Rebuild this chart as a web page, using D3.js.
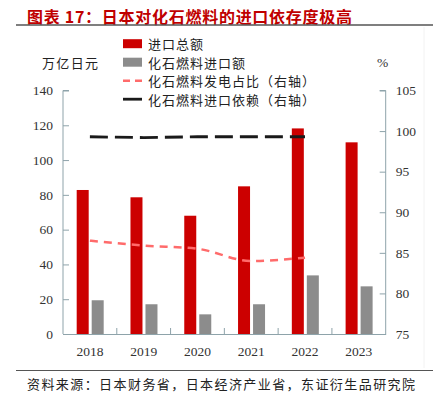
<!DOCTYPE html>
<html>
<head>
<meta charset="utf-8">
<script src="https://cdn.jsdelivr.net/npm/d3@7"></script>
<style>
  body { margin: 0; background: #fff; }
  svg { display: block; }
</style>
</head>
<body>
<script>
const width = 439;
const height = 396;
const marginTop = 90.5;
const marginBottom = 62;
const marginLeft = 63;
const marginRight = 53.3;

const years = ["2018", "2019", "2020", "2021", "2022", "2023"];
const totalImports = [82.8, 78.6, 68.0, 84.9, 118.2, 110.2];
const fossilImports = [19.4, 17.1, 11.3, 17.1, 33.7, 27.4];
// right axis, only 2018-2022
const powerShare = [86.5, 85.9, 85.5, 84.0, 84.4];
const dependence = [99.3, 99.2, 99.3, 99.3, 99.3];
const leftTicks = [0, 20, 40, 60, 80, 100, 120, 140];
const rightTicks = [75, 80, 85, 90, 95, 100, 105];

const cjk = "'Noto Sans CJK SC', sans-serif";
const serif = "'Liberation Serif', 'Times New Roman', serif";
const axisColor = "#8ea3aa";

const svg = d3.select("body").append("svg")
  .attr("width", width)
  .attr("height", height);

// title
svg.append("text")
  .text("图表 17：日本对化石燃料的进口依存度极高")
  .attr("x", 27)
  .attr("y", 16)
  .attr("dominant-baseline", "central")
  .attr("textLength", 325)
  .attr("lengthAdjust", "spacing")
  .style("font-family", cjk)
  .style("font-size", "16px")
  .style("font-weight", "bold")
  .attr("fill", "#c00000");

svg.append("line")
  .attr("x1", 16).attr("x2", 433)
  .attr("y1", 25).attr("y2", 25)
  .attr("stroke", "#555").attr("stroke-width", 1.5);

svg.append("line")
  .attr("x1", 16).attr("x2", 433)
  .attr("y1", 370.5).attr("y2", 370.5)
  .attr("stroke", "#555").attr("stroke-width", 1.2);

svg.append("line")
  .attr("x1", 424).attr("x2", 424)
  .attr("y1", 27).attr("y2", 368)
  .attr("stroke", "#f2f2f2");

svg.append("text")
  .text("资料来源：日本财务省，日本经济产业省，东证衍生品研究院")
  .attr("x", 27)
  .attr("y", 383)
  .attr("dominant-baseline", "central")
  .attr("textLength", 388)
  .attr("lengthAdjust", "spacing")
  .style("font-family", cjk)
  .style("font-size", "13px")
  .attr("fill", "#222");

const x = d3.scaleBand()
  .domain(years)
  .range([marginLeft, width - marginRight]);

const y = d3.scaleLinear()
  .domain([0, 140])
  .range([height - marginBottom, marginTop]);

const y2 = d3.scaleLinear()
  .domain([75, 105])
  .range([height - marginBottom, marginTop]);

// left axis
const gl = svg.append("g")
  .attr("transform", `translate(${marginLeft},0)`)
  .call(d3.axisRight(y).tickValues(leftTicks).tickSize(6).tickFormat(d3.format("d")));
gl.select(".domain").attr("stroke", axisColor).attr("d", `M6,${y(140)}H0V${y(0)}`);
gl.selectAll(".tick line").attr("stroke", axisColor);
gl.selectAll(".tick text")
  .attr("x", -10)
  .attr("text-anchor", "end")
  .style("font-family", serif)
  .style("font-size", "13.5px")
  .attr("fill", "#333");

// right axis
const gr = svg.append("g")
  .attr("transform", `translate(${width - marginRight},0)`)
  .call(d3.axisLeft(y2).tickValues(rightTicks).tickSize(6));
gr.select(".domain").attr("stroke", axisColor).attr("d", `M-6,${y2(105)}H0V${y2(75)}`);
gr.selectAll(".tick line").attr("stroke", axisColor);
gr.selectAll(".tick text")
  .attr("x", 10)
  .attr("text-anchor", "start")
  .style("font-family", serif)
  .style("font-size", "13.5px")
  .attr("fill", "#333");

// bottom axis
const gb = svg.append("g")
  .attr("transform", `translate(0,${height - marginBottom})`)
  .call(d3.axisBottom(x).tickSize(0).tickPadding(12));
gb.select(".domain").attr("stroke", axisColor);
gb.selectAll(".tick text")
  .style("font-family", serif)
  .style("font-size", "13.5px")
  .attr("fill", "#333");
gb.selectAll(".sep")
  .data(years.slice(1))
  .enter().append("line")
    .attr("x1", d => x(d)).attr("x2", d => x(d))
    .attr("y1", 0).attr("y2", -6)
    .attr("stroke", axisColor);

const cx = d => x(d) + x.bandwidth() / 2;

// bars
svg.append("g").selectAll("rect")
  .data(years)
  .enter().append("rect")
    .attr("x", d => cx(d) - 13.2)
    .attr("width", 12)
    .attr("y", (d, i) => y(totalImports[i]))
    .attr("height", (d, i) => y(0) - y(totalImports[i]))
    .attr("fill", "#cc0000");

svg.append("g").selectAll("rect")
  .data(years)
  .enter().append("rect")
    .attr("x", d => cx(d) + 1.8)
    .attr("width", 12)
    .attr("y", (d, i) => y(fossilImports[i]))
    .attr("height", (d, i) => y(0) - y(fossilImports[i]))
    .attr("fill", "#8c8c8c");

// lines
const line2 = d3.line()
  .x((d, i) => cx(years[i]))
  .y(d => y2(d));

svg.append("path")
  .datum(dependence)
  .attr("d", line2)
  .attr("fill", "none")
  .attr("stroke", "#1a1a1a")
  .attr("stroke-width", 2.8)
  .attr("stroke-dasharray", "18,7");

svg.append("path")
  .datum(powerShare)
  .attr("d", line2.curve(d3.curveMonotoneX))
  .attr("fill", "none")
  .attr("stroke", "#ff6b6b")
  .attr("stroke-width", 2.5)
  .attr("stroke-dasharray", "8,6");

// axis units
svg.append("text")
  .text("万亿日元")
  .attr("x", 42).attr("y", 62)
  .attr("dominant-baseline", "central")
  .attr("textLength", 56)
  .attr("lengthAdjust", "spacing")
  .style("font-family", cjk)
  .style("font-size", "13px")
  .attr("fill", "#222");

svg.append("text")
  .text("%")
  .attr("x", 377).attr("y", 62)
  .attr("dominant-baseline", "central")
  .style("font-family", serif)
  .style("font-size", "13.5px")
  .attr("fill", "#333");

// legend
const legendItems = [
  { label: "进口总额", type: "rect", color: "#cc0000" },
  { label: "化石燃料进口额", type: "rect", color: "#8c8c8c" },
  { label: "化石燃料发电占比（右轴）", type: "dash", color: "#ff6b6b" },
  { label: "化石燃料进口依赖（右轴）", type: "line", color: "#1a1a1a" }
];

const legend = svg.append("g");
legendItems.forEach((item, i) => {
  const ly = 43.7 + i * 18.5;
  if (item.type === "rect") {
    legend.append("rect")
      .attr("x", 123).attr("y", ly - 4.5)
      .attr("width", 19).attr("height", 9)
      .attr("fill", item.color);
  } else {
    legend.append("line")
      .attr("x1", 123).attr("x2", 142)
      .attr("y1", ly).attr("y2", ly)
      .attr("stroke", item.color)
      .attr("stroke-width", item.type === "dash" ? 2.5 : 2.8)
      .attr("stroke-dasharray", item.type === "dash" ? "7,5" : null);
  }
  legend.append("text")
    .text(item.label)
    .attr("x", 148).attr("y", ly)
    .attr("dominant-baseline", "central")
    .attr("textLength", item.label.length * 14 - 1)
    .attr("lengthAdjust", "spacing")
    .style("font-family", cjk)
    .style("font-size", "13px")
    .attr("fill", "#222");
});
</script>
</body>
</html>
